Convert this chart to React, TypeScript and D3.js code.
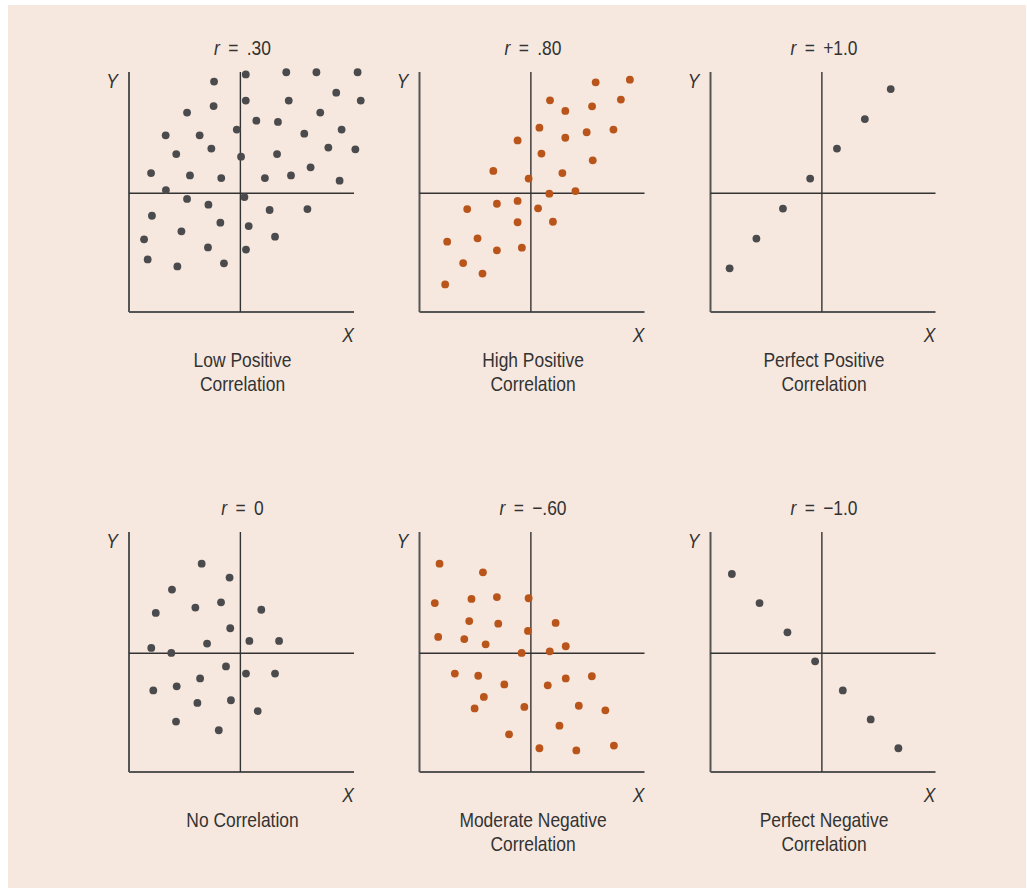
import React from "react";
import * as d3 from "d3";

// point coordinates on a 0..100 grid per panel (x right, y up)
const lowPositive: [number, number][] = [
  [37.8, 96.0], [51.9, 99.0], [69.9, 99.9], [83.3, 99.9], [101.6, 99.9],
  [92.1, 91.4], [103.0, 88.1], [51.9, 88.1], [71.0, 88.1], [37.6, 85.8],
  [25.8, 83.1], [85.0, 83.1], [56.6, 79.7], [66.2, 79.2], [47.9, 76.0],
  [94.5, 76.0], [16.3, 73.6], [31.4, 73.6], [77.9, 74.3], [36.6, 68.1],
  [88.6, 68.5], [100.6, 67.8], [21.0, 65.8], [49.8, 64.7], [65.8, 65.8],
  [80.7, 60.3], [9.8, 57.9], [27.1, 56.9], [41.0, 55.8], [60.4, 55.8],
  [72.0, 56.9], [93.6, 54.7], [16.4, 50.8], [51.3, 47.9], [25.8, 47.1],
  [35.3, 44.7], [62.5, 42.5], [79.3, 42.9], [10.2, 40.1], [40.6, 37.2],
  [53.2, 35.8], [23.3, 33.6], [6.7, 30.3], [64.9, 31.4], [35.1, 26.9],
  [52.0, 26.0], [8.3, 21.9], [21.5, 19.0], [42.2, 20.3],
];

const highPositive: [number, number][] = [
  [78.3, 95.7], [93.5, 96.8], [58.0, 88.2], [89.5, 88.5], [64.8, 83.8],
  [76.7, 85.7], [53.3, 76.8], [86.2, 76.0], [43.6, 71.5], [64.8, 72.6],
  [74.3, 74.9], [54.2, 66.0], [77.0, 63.2], [32.8, 58.8], [63.5, 57.9],
  [48.5, 55.6], [57.7, 49.3], [69.3, 50.4], [21.2, 42.9], [34.4, 45.1],
  [43.6, 46.3], [52.7, 43.2], [43.6, 37.4], [59.3, 37.6], [12.3, 29.3],
  [25.8, 30.7], [34.4, 25.7], [45.5, 26.8], [19.4, 20.4], [28.0, 16.0],
  [11.4, 11.5],
];

const perfectPositive: [number, number][] = [
  [8.5, 18.2], [20.4, 30.6], [32.2, 43.1], [44.3, 55.6], [56.2, 68.1],
  [68.6, 80.4], [80.1, 92.9],
];

const noCorrelation: [number, number][] = [
  [32.3, 86.8], [44.7, 81.0], [19.1, 76.0], [29.5, 68.5], [40.9, 70.7],
  [11.9, 66.3], [58.8, 67.6], [45.0, 59.9], [34.7, 53.5], [53.5, 54.6],
  [66.7, 54.6], [9.9, 51.7], [18.8, 49.6], [43.1, 44.0], [31.6, 39.0],
  [52.0, 41.0], [64.9, 41.0], [10.8, 34.0], [21.2, 35.7], [30.4, 28.8],
  [45.3, 29.9], [57.2, 25.4], [20.9, 21.0], [39.9, 17.4],
];

const moderateNegative: [number, number][] = [
  [8.9, 86.8], [28.2, 83.2], [6.8, 70.4], [23.1, 72.1], [34.4, 72.9],
  [48.5, 72.4], [22.1, 62.9], [35.0, 61.8], [60.5, 62.1], [8.3, 56.3],
  [19.9, 55.4], [48.2, 58.8], [29.4, 53.2], [45.4, 49.6], [57.9, 50.3],
  [65.0, 52.4], [15.7, 41.0], [26.1, 40.1], [37.7, 36.5], [57.0, 36.1],
  [65.0, 39.0], [76.6, 39.9], [28.6, 31.3], [24.5, 26.5], [46.6, 27.1],
  [70.8, 27.6], [82.6, 25.7], [62.2, 19.3], [39.8, 15.7], [53.3, 9.9],
  [69.7, 9.0], [86.4, 11.0],
];

const perfectNegative: [number, number][] = [
  [9.5, 82.5], [21.8, 70.4], [34.2, 58.2], [46.5, 46.1], [58.8, 34.0],
  [71.2, 21.9], [83.5, 9.9],
];

const rValues = [".30", ".80", "+1.0", "0", "\u2212.60", "\u22121.0"];
const captions = [
  ["Low Positive", "Correlation"],
  ["High Positive", "Correlation"],
  ["Perfect Positive", "Correlation"],
  ["No Correlation"],
  ["Moderate Negative", "Correlation"],
  ["Perfect Negative", "Correlation"],
];
const series = [lowPositive, highPositive, perfectPositive, noCorrelation, moderateNegative, perfectNegative];
const dotColors = ["#4b4b4d", "#b9551b", "#4b4b4d", "#4b4b4d", "#b9551b", "#4b4b4d"];

const CROSS = 49.5;
const W = 1027;
const H = 889;
const FONT = "'Liberation Sans', Arial, sans-serif";
const SQUEEZE = 0.85; // fake a condensed face

const colLeft = [129, 419.5, 710.5];
const rowTop = [72, 532];
const panelW = 225;
const panelH = 240;

function Label({ x, y, italic, children }: { x: number; y: number; italic?: boolean; children: React.ReactNode }) {
  return (
    <text
      transform={`translate(${x},${y}) scale(${SQUEEZE},1)`}
      textAnchor="middle"
      fontSize={20.5}
      fontStyle={italic ? "italic" : "normal"}
      fill="#333"
      fontFamily={FONT}
    >
      {children}
    </text>
  );
}

function Panel({ idx }: { idx: number }) {
  const left = colLeft[idx % 3];
  const top = rowTop[Math.floor(idx / 3)];
  const x = d3.scaleLinear().domain([0, 100]).range([left, left + panelW]);
  const y = d3.scaleLinear().domain([0, 100]).range([top + panelH, top]);
  const cx = left + panelW / 2;

  return (
    <g>
      <Label x={cx + 1} y={top - 17}>
        <tspan fontStyle="italic">r</tspan>
        {"\u00a0\u2009=\u2009\u00a0" + rValues[idx]}
      </Label>
      <Label x={left - 17} y={top + 16} italic>Y</Label>
      <Label x={left + panelW - 6} y={top + panelH + 30} italic>X</Label>
      {/* axes */}
      <line x1={x(0)} x2={x(0)} y1={y(100)} y2={y(0)} stroke="#555" strokeWidth={2} />
      <line x1={x(0)} x2={x(100)} y1={y(0)} y2={y(0)} stroke="#555" strokeWidth={2} />
      {/* crosshair */}
      <line x1={x(CROSS)} x2={x(CROSS)} y1={y(100)} y2={y(0)} stroke="#333" strokeWidth={1.4} />
      <line x1={x(0)} x2={x(100)} y1={y(CROSS)} y2={y(CROSS)} stroke="#333" strokeWidth={1.4} />
      {series[idx].map((d, i) => (
        <circle key={i} cx={x(d[0])} cy={y(d[1])} r={3.9} fill={dotColors[idx]} />
      ))}
      {captions[idx].map((line, i) => (
        <Label key={i} x={cx + 1} y={top + panelH + 55 + i * 24}>{line}</Label>
      ))}
    </g>
  );
}

export default function App() {
  return (
    <svg width={W} height={H} style={{ position: "absolute", left: 0, top: 0, background: "#fff" }}>
      <rect x={8} y={5} width={1018} height={883} fill="#f6e8df" />
      {series.map((_, i) => (
        <Panel key={i} idx={i} />
      ))}
    </svg>
  );
}
